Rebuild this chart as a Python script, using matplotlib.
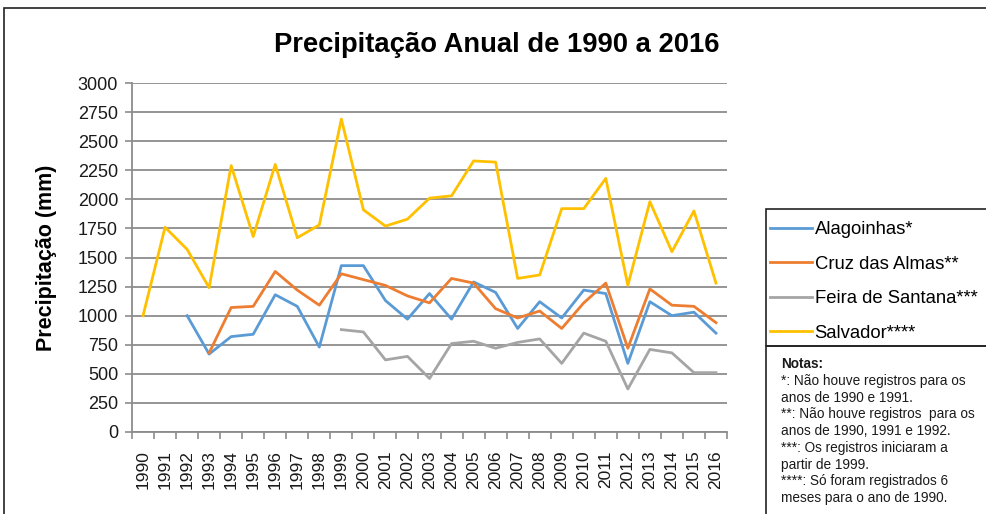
import matplotlib
matplotlib.use("Agg")
import matplotlib.pyplot as plt
import numpy as np
from matplotlib.patches import Rectangle
from matplotlib import font_manager

years = list(range(1990, 2017))

alagoinhas_years = list(range(1992, 2017))
alagoinhas = [1000, 670, 820, 840, 1180, 1080, 730, 1430, 1430, 1130, 970, 1190, 970,
              1290, 1200, 890, 1120, 980, 1220, 1190, 590, 1120, 1000, 1030, 850]

cruz_years = list(range(1993, 2017))
cruz = [680, 1070, 1080, 1380, 1220, 1090, 1360, 1310, 1260, 1170, 1110, 1320, 1280,
        1060, 980, 1040, 890, 1110, 1280, 720, 1230, 1090, 1080, 940]

feira_years = list(range(1999, 2017))
feira = [880, 860, 620, 650, 460, 760, 780, 720, 770, 800, 590, 850, 780, 370, 710,
         680, 510, 510]

salvador_years = list(range(1990, 2017))
salvador = [1000, 1760, 1570, 1240, 2290, 1680, 2300, 1670, 1780, 2690, 1910, 1770,
            1830, 2010, 2030, 2330, 2320, 1320, 1350, 1920, 1920, 2180, 1260, 1980,
            1550, 1900, 1280]

series_names = ["Alagoinhas*", "Cruz das Almas**", "Feira de Santana***", "Salvador****"]
colors = ["#5B9BD5", "#ED7D31", "#A5A5A5", "#FFC000"]

title = "Precipitação Anual de 1990 a 2016"
ylabel = "Precipitação (mm)"
yticks = list(range(0, 3001, 250))
notes_title = "Notas:"
notes = ["*: Não houve registros para os",
         "anos de 1990 e 1991.",
         "**: Não houve registros  para os",
         "anos de 1990, 1991 e 1992.",
         "***: Os registros iniciaram a",
         "partir de 1999.",
         "****: Só foram registrados 6",
         "meses para o ano de 1990."]

plt.rcParams['font.family'] = ['Liberation Sans', 'DejaVu Sans']

W, H = 986, 514
fig = plt.figure(figsize=(W / 100, H / 100), dpi=100)
ax = fig.add_axes([132 / W, 1 - 432 / H, (727 - 132) / W, (432 - 83) / H])

data = [(alagoinhas_years, alagoinhas), (cruz_years, cruz),
        (feira_years, feira), (salvador_years, salvador)]
handles = []
for (xs, ys), name, c in zip(data, series_names, colors):
    h, = ax.plot(xs, ys, color=c, lw=2.0, label=name)
    handles.append(h)

ax.set_xlim(1989.5, 2016.5)
ax.set_ylim(0, 3000)
ax.set_yticks(yticks)
ax.set_yticklabels([str(v) for v in yticks], fontsize=13, color='#1a1a1a')
ax.set_xticks(years)
ax.set_xticklabels([str(y) for y in years], rotation=90, fontsize=12.5, color='#1a1a1a')
ax.set_xticks(np.arange(1989.5, 2017, 1), minor=True)
ax.tick_params(axis='x', which='major', length=0, pad=13)
ax.tick_params(axis='x', which='minor', length=5, color='#8c8c8c', width=1.2, direction='out')
ax.tick_params(axis='y', length=5, color='#8c8c8c', width=1.2, pad=5)
ax.grid(axis='y', color='#8c8c8c', lw=1.3)
ax.set_axisbelow(True)
for s in ['top', 'right']:
    ax.spines[s].set_visible(False)
for s in ['left', 'bottom']:
    ax.spines[s].set_color('#8c8c8c')
    ax.spines[s].set_linewidth(1.3)

fig.text(47 / W, 1 - 258 / H, ylabel, rotation=90, ha='center', va='center',
         fontsize=15.5, fontweight='bold')

# title, fitted to the reference width (~445 px)
names = {f.name for f in font_manager.fontManager.ttflist}
tfam = 'Liberation Sans Narrow' if 'Liberation Sans Narrow' in names else 'Liberation Sans'
t = fig.text(497 / W, 1 - 45 / H, title, ha='center', va='center', fontsize=20,
             fontweight='bold', family=tfam)
renderer = fig.canvas.get_renderer()
w = t.get_window_extent(renderer).width
t.set_fontsize(min(26, 20 * 445 / w))

# outer frame
fig.patches.append(Rectangle((4 / W, -0.1), 1.1, 1 - 8 / H + 0.1,
                             transform=fig.transFigure, fill=False,
                             edgecolor='#222222', lw=1.2))
# legend and notes boxes
fig.patches.append(Rectangle((766 / W, 1 - 346 / H), 0.5, (346 - 209) / H,
                             transform=fig.transFigure, fill=False,
                             edgecolor='#222222', lw=1.2))
fig.patches.append(Rectangle((766 / W, -0.1), 0.5, 1 - 346 / H + 0.1,
                             transform=fig.transFigure, fill=False,
                             edgecolor='#222222', lw=1.2))

leg = fig.legend(handles=handles, loc='upper left',
                 bbox_to_anchor=(770 / W, 1 - 221 / H), frameon=False,
                 fontsize=13.3, handlelength=2.3, handletextpad=0.12,
                 labelspacing=0.95, borderaxespad=0, borderpad=0)

fig.text(781 / W, 1 - 364 / H, notes_title, fontsize=9.8, fontweight='bold',
         va='center', ha='left', color='#1a1a1a')
for i, line in enumerate(notes):
    fig.text(781 / W, 1 - (381 + 16.7 * i) / H, line, fontsize=9.8, va='center',
             ha='left', color='#1a1a1a')

fig.savefig("out.png", dpi=100)
